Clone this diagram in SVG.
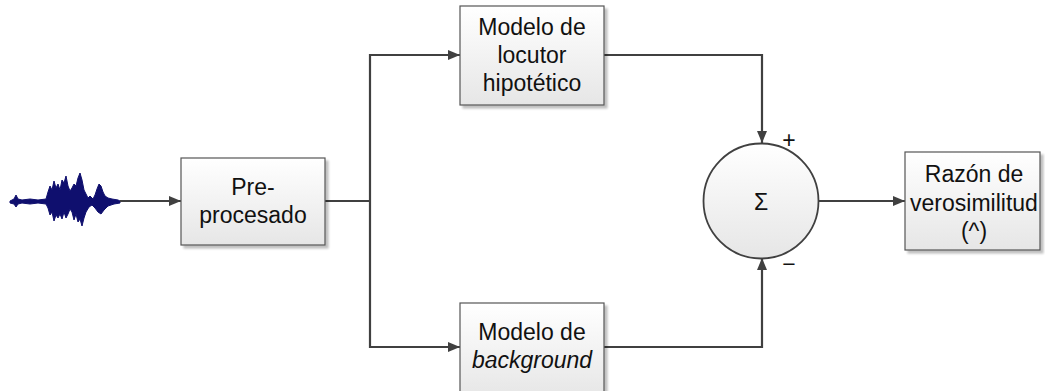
<svg xmlns="http://www.w3.org/2000/svg" width="1045" height="391" viewBox="0 0 1045 391">
<defs>
<linearGradient id="g" x1="0" y1="0" x2="0" y2="1">
<stop offset="0" stop-color="#ffffff"/>
<stop offset="1" stop-color="#e6e6e6"/>
</linearGradient>
<marker id="ah" markerWidth="12" markerHeight="10" refX="12" refY="5" orient="auto" markerUnits="userSpaceOnUse">
<path d="M0,0 L12,5 L0,10 Z" fill="#404040"/>
</marker>
<filter id="sh" x="-10%" y="-10%" width="130%" height="130%">
<feOffset dx="3" dy="3" in="SourceAlpha" result="o"/>
<feGaussianBlur in="o" stdDeviation="1" result="b"/>
<feComponentTransfer in="b" result="c"><feFuncA type="linear" slope="0.25"/></feComponentTransfer>
<feMerge><feMergeNode in="c"/><feMergeNode in="SourceGraphic"/></feMerge>
</filter>
</defs>
<style>
.box{fill:url(#g);stroke:#555;stroke-width:1.2;filter:url(#sh)}
.t{font-family:"Liberation Sans",Arial,sans-serif;font-size:23px;fill:#111;text-anchor:middle}
.c{fill:none;stroke:#404040;stroke-width:2.2}
.w{fill:#0f0f6e;stroke:#0f0f6e;stroke-width:1;stroke-linejoin:round}
</style>
<g id="waveform">
<path class="w" d="M10,201 L14,199 L16,195 L18,199 L22,200 L30,199 L38,200 L46,199 L48,192 L50,186 L52,190 L54,181 L56,188 L58,184 L60,190 L62,180 L64,183 L66,176 L68,186 L70,191 L72,188 L74,184 L76,186 L78,178 L80,173 L82,180 L84,190 L86,194 L88,198 L90,196 L93,199 L95,195 L97,189 L99,184 L101,186 L103,192 L105,196 L108,198 L112,199 L118,200 L120,201 L120,203 L114,204 L108,206 L104,210 L101,214 L98,212 L95,208 L92,205 L89,207 L86,212 L84,218 L82,226 L80,219 L78,222 L76,214 L74,220 L72,212 L70,209 L68,214 L66,218 L64,212 L62,219 L60,214 L58,218 L56,215 L54,221 L52,212 L50,215 L48,208 L46,204 L38,203 L30,204 L22,203 L18,204 L16,207 L14,204 L10,203 Z"/>
</g>
<g id="connectors">
<path class="c" d="M120,201 H181" marker-end="url(#ah)"/>
<path class="c" d="M325,201 H370"/>
<path class="c" d="M370,201 V55 H460" marker-end="url(#ah)"/>
<path class="c" d="M370,201 V347 H460" marker-end="url(#ah)"/>
<path class="c" d="M604,55 H762 V143" marker-end="url(#ah)"/>
<path class="c" d="M604,347 H762 V258" marker-end="url(#ah)"/>
<path class="c" d="M819,201 H905" marker-end="url(#ah)"/>
</g>
<g id="preprocesado">
<rect class="box" x="181" y="158" width="144" height="87"/>
<text class="t" x="253" y="195">Pre-</text>
<text class="t" x="253" y="223">procesado</text>
</g>
<g id="locutor">
<rect class="box" x="460" y="6" width="144" height="99"/>
<text class="t" x="532" y="35">Modelo de</text>
<text class="t" x="532" y="63">locutor</text>
<text class="t" x="532" y="91">hipotético</text>
</g>
<g id="background">
<rect class="box" x="460" y="303" width="144" height="95"/>
<text class="t" x="532" y="340">Modelo de</text>
<text class="t" x="532" y="368" font-style="italic">background</text>
</g>
<g id="suma">
<circle cx="761" cy="201" r="57.5" fill="url(#g)" stroke="#404040" stroke-width="1.8"/>
<text class="t" x="761" y="210" font-size="25">Σ</text>
<text class="t" x="789" y="148" font-size="20">+</text>
<text class="t" x="789" y="272" font-size="20">−</text>
</g>
<g id="razon">
<rect class="box" x="905" y="152" width="135" height="98"/>
<text class="t" x="974" y="182">Razón de</text>
<text class="t" x="974" y="211">verosimilitud</text>
<text class="t" x="974" y="239">(^)</text>
</g>
</svg>
